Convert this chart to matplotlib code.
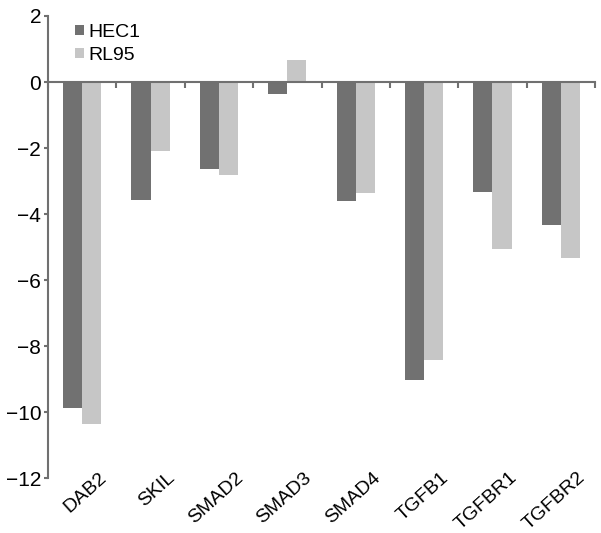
import matplotlib.pyplot as plt
import matplotlib.transforms as mtransforms
import numpy as np

genes = ['DAB2', 'SKIL', 'SMAD2', 'SMAD3', 'SMAD4', 'TGFB1', 'TGFBR1', 'TGFBR2']
hec1 = [-9.88, -3.58, -2.64, -0.36, -3.6, -9.03, -3.33, -4.33]
rl95 = [-10.35, -2.09, -2.82, 0.67, -3.36, -8.42, -5.06, -5.33]

axis_col = '#707070'
plt.rcParams['font.family'] = 'Liberation Sans'

fig = plt.figure(figsize=(6.01, 5.33), dpi=100)
ax = fig.add_axes([0.08, 0.103, 0.91, 0.867])

x = np.arange(len(genes))
w = 0.28
ax.bar(x - w / 2, hec1, w, color='#717171', label='HEC1')
ax.bar(x + w / 2, rl95, w, color='#c6c6c6', label='RL95')

ax.set_xlim(-0.5, len(genes) - 0.5)
ax.set_ylim(-12, 2)
ax.set_yticks(np.arange(-12, 3, 2))
ax.set_yticklabels(['\u221212', '\u221210', '\u22128', '\u22126', '\u22124', '\u22122', '0', '2'])

for s in ['top', 'right']:
    ax.spines[s].set_visible(False)
ax.spines['left'].set_color(axis_col)
ax.spines['left'].set_linewidth(1.5)
ax.spines['bottom'].set_position(('data', 0))
ax.spines['bottom'].set_color(axis_col)
ax.spines['bottom'].set_linewidth(1.5)

# boundary ticks on the zero line, gene names along the bottom
ax.set_xticks(np.arange(len(genes) + 1) - 0.5)
ax.set_xticklabels([])
ax.tick_params(axis='x', direction='out', length=4, color=axis_col, width=1.5)
ax.tick_params(axis='y', direction='out', length=3, color=axis_col, width=1.5,
               labelsize=15, pad=2)

trans = mtransforms.blended_transform_factory(ax.transData, ax.transAxes)
for xi, g in zip(x, genes):
    ax.text(xi + 0.24, 0.02, g, transform=trans, rotation=42, ha='right', va='top',
            rotation_mode='anchor', fontsize=14, clip_on=False)

ax.legend(loc='upper left', bbox_to_anchor=(0.025, 1.013), frameon=False, fontsize=14,
          handlelength=0.42, handleheight=0.42, handletextpad=0.25, labelspacing=0.35,
          borderaxespad=0.3)

fig.savefig('out.png', dpi=100)
